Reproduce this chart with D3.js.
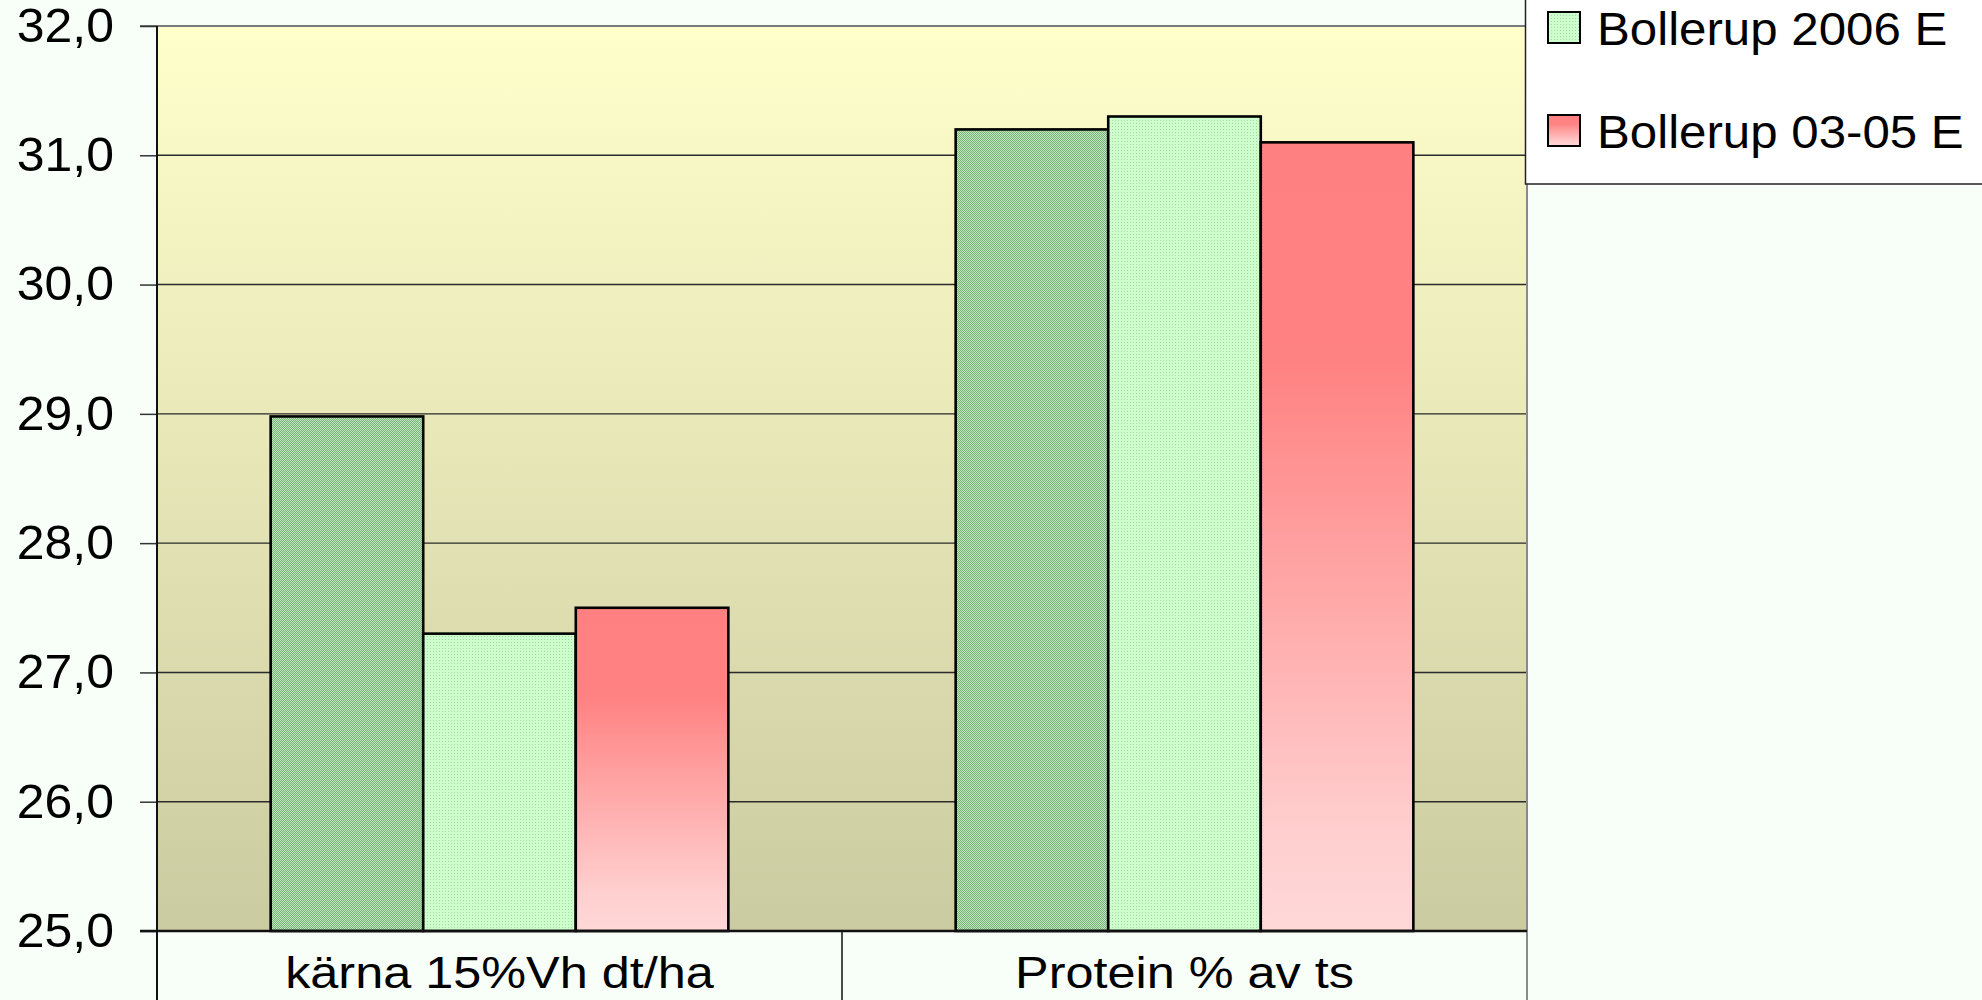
<!DOCTYPE html>
<html>
<head>
<meta charset="utf-8">
<script src="https://cdn.jsdelivr.net/npm/d3@7"></script>
<style>
  html, body { margin: 0; padding: 0; background: #f8fff8; }
  svg { display: block; font-family: Arial, "Liberation Sans", sans-serif; }
</style>
</head>
<body>
<svg id="chart" width="1982" height="1000"></svg>
<script>
// values
const categories = ['kärna 15%Vh dt/ha', 'Protein % av ts']
const bollerup2006 = [28.98, 31.2]      // dark green, legend entry above the visible area
const bollerup2006E = [27.3, 31.3]
const bollerup0305E = [27.5, 31.1]
const legendLabels = ['Bollerup 2006 E', 'Bollerup 03-05 E']
const yTicks = [25, 26, 27, 28, 29, 30, 31, 32]

const series = [bollerup2006, bollerup2006E, bollerup0305E]
const fills = ['url(#dotsDark)', 'url(#dotsLight)', 'url(#redFade)']

const width = 1982, height = 1000
const margin = { top: 26, left: 157, right: 1527, bottom: 931 }

const svg = d3.select('#chart')
const defs = svg.append('defs')

// plot background, light yellow to khaki
const bg = defs.append('linearGradient').attr('id', 'plotBg')
	.attr('x1', 0).attr('y1', 0).attr('x2', 0).attr('y2', 1)
bg.append('stop').attr('offset', 0).attr('stop-color', '#ffffcc')
bg.append('stop').attr('offset', 1).attr('stop-color', '#cbcba1')

const red = defs.append('linearGradient').attr('id', 'redFade')
	.attr('x1', 0).attr('y1', 0).attr('x2', 0).attr('y2', 1)
red.append('stop').attr('offset', 0).attr('stop-color', '#ff8080')
red.append('stop').attr('offset', 0.28).attr('stop-color', '#ff8282')
red.append('stop').attr('offset', 0.88).attr('stop-color', '#ffcfcf')
red.append('stop').attr('offset', 1).attr('stop-color', '#ffd8d8')

// fine dotted fills of the two green series
const pd = defs.append('pattern').attr('id', 'dotsDark')
	.attr('width', 2).attr('height', 2).attr('patternUnits', 'userSpaceOnUse')
pd.append('rect').attr('width', 2).attr('height', 2).attr('fill', '#bfe6bf')
pd.append('rect').attr('width', 1).attr('height', 1).attr('fill', '#78b278')
pd.append('rect').attr('x', 1).attr('y', 1).attr('width', 1).attr('height', 1).attr('fill', '#78b278')

const pl = defs.append('pattern').attr('id', 'dotsLight')
	.attr('width', 3).attr('height', 3).attr('patternUnits', 'userSpaceOnUse')
pl.append('rect').attr('width', 3).attr('height', 3).attr('fill', '#ccffcc')
pl.append('rect').attr('width', 1).attr('height', 1).attr('fill', '#a5d8a5')

const y = d3.scaleLinear().domain([25, 32]).range([margin.bottom, margin.top])
const x0 = d3.scaleBand().domain(categories).range([margin.left, margin.right])
const x1 = d3.scaleBand().domain(d3.range(series.length))
	.range([0, x0.bandwidth()]).paddingInner(0).paddingOuter(0.745)

const fmt = d3.formatLocale({ decimal: ',', thousands: '.', grouping: [3], currency: ['', ''] }).format('.1f')

// stretch text a little wider, the source picture is widened
const stretch = (sel, k) => sel.each(function() {
	const w = this.getComputedTextLength()
	d3.select(this).attr('textLength', w * k).attr('lengthAdjust', 'spacingAndGlyphs')
})

svg.append('rect')
	.attr('x', margin.left).attr('y', margin.top)
	.attr('width', margin.right - margin.left).attr('height', margin.bottom - margin.top)
	.attr('fill', 'url(#plotBg)')

// gridlines
svg.append('g').selectAll('line').data(yTicks.slice(1, -1)).join('line')
	.attr('x1', margin.left).attr('x2', margin.right)
	.attr('y1', d => y(d)).attr('y2', d => y(d))
	.attr('stroke', '#2a2a2a').attr('stroke-width', 1.4)

// top and right border of plot area
svg.append('line').attr('x1', 140).attr('x2', margin.right)
	.attr('y1', margin.top).attr('y2', margin.top)
	.attr('stroke', '#7a7a7a').attr('stroke-width', 2)
svg.append('line').attr('x1', margin.right).attr('x2', margin.right)
	.attr('y1', margin.top).attr('y2', height)
	.attr('stroke', '#8a8a8a').attr('stroke-width', 2)

// bars
const groups = svg.append('g').selectAll('g').data(categories).join('g')
	.attr('transform', d => `translate(${x0(d)},0)`)

groups.selectAll('rect')
	.data((c, ci) => series.map((s, si) => ({ si, v: s[ci] })))
	.join('rect')
	.attr('x', d => x1(d.si))
	.attr('width', x1.bandwidth())
	.attr('y', d => y(d.v))
	.attr('height', d => y(25) - y(d.v))
	.attr('fill', d => fills[d.si])
	.attr('stroke', '#000')
	.attr('stroke-width', 2.6)

// y axis
const yAxis = svg.append('g')
	.attr('transform', `translate(${margin.left},0)`)
	.call(d3.axisLeft(y).tickValues(yTicks).tickSize(17).tickPadding(26).tickFormat(fmt))
yAxis.select('.domain').remove()
yAxis.selectAll('.tick line').attr('stroke', '#333').attr('stroke-width', 1.5)
yAxis.selectAll('.tick text')
	.attr('font-size', 48).attr('fill', '#000').attr('font-family', 'Arial, "Liberation Sans", sans-serif')
	.call(stretch, 1.04)

svg.append('line').attr('x1', margin.left).attr('x2', margin.left)
	.attr('y1', margin.top).attr('y2', height)
	.attr('stroke', '#111').attr('stroke-width', 2)

// x axis and category dividers
svg.append('line').attr('x1', 140).attr('x2', margin.right)
	.attr('y1', y(25)).attr('y2', y(25))
	.attr('stroke', '#111').attr('stroke-width', 2.5)

svg.append('g').selectAll('line').data(categories.slice(1)).join('line')
	.attr('x1', d => x0(d)).attr('x2', d => x0(d))
	.attr('y1', y(25)).attr('y2', height)
	.attr('stroke', '#111').attr('stroke-width', 1.5)

svg.append('g').selectAll('text').data(categories).join('text')
	.attr('x', d => x0(d) + x0.bandwidth() / 2)
	.attr('y', 988)
	.attr('text-anchor', 'middle')
	.attr('font-size', 45)
	.text(d => d)
	.call(stretch, 1.12)

// legend, its box runs past the top and right edges
const legend = svg.append('g')
legend.append('rect')
	.attr('x', 1525.5).attr('y', -200).attr('width', 600).attr('height', 384)
	.attr('fill', '#fff').attr('stroke', '#222').attr('stroke-width', 1.5)

const rows = legend.selectAll('g.row').data(legendLabels).join('g')
	.attr('class', 'row')
	.attr('transform', (d, i) => `translate(0,${i * 103})`)
rows.append('rect')
	.attr('x', 1548).attr('y', 12).attr('width', 32).attr('height', 31)
	.attr('fill', (d, i) => fills[i + 1])
	.attr('stroke', '#000').attr('stroke-width', 2)
rows.append('text')
	.attr('x', 1597).attr('y', 45)
	.attr('font-size', 46)
	.text(d => d)
	.call(stretch, 1.07)
</script>
</body>
</html>
